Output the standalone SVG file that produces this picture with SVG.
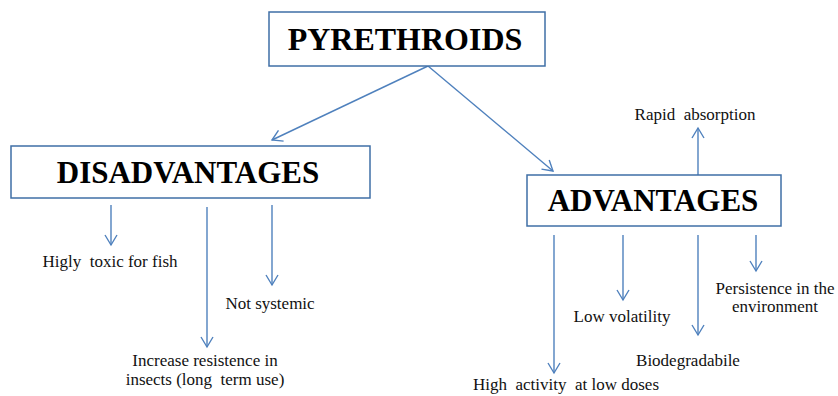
<svg xmlns="http://www.w3.org/2000/svg" width="838" height="396" viewBox="0 0 838 396">
<defs>
<marker id="ah" markerUnits="userSpaceOnUse" markerWidth="14" markerHeight="14" viewBox="-12 -7 14 14" refX="0" refY="0" orient="auto">
<path d="M-10,-6 L0,0 L-10,6" fill="none" stroke="#4F81BD" stroke-width="1.4"/>
</marker>
<style>
.box{fill:#fff;stroke:#3F6FA6;stroke-width:1.5}
.title{font-family:"Liberation Serif","Times New Roman",serif;font-weight:bold;fill:#000;text-anchor:middle}
.lbl{font-family:"Liberation Serif","Times New Roman",serif;font-size:17px;fill:#111;text-anchor:middle;white-space:pre}
.conn line{stroke:#4F81BD;stroke-width:1.4;marker-end:url(#ah)}
</style>
</defs>
<rect width="838" height="396" fill="#fff"/>
<g id="connectors" class="conn">
<line x1="428" y1="66" x2="272" y2="140"/>
<line x1="428" y1="66" x2="553" y2="171"/>
<line x1="111" y1="205" x2="111" y2="245"/>
<line x1="207" y1="207" x2="207" y2="347"/>
<line x1="272" y1="205" x2="272" y2="285"/>
<line x1="698" y1="177" x2="698" y2="128"/>
<line x1="554" y1="235" x2="554" y2="373"/>
<line x1="623" y1="235" x2="623" y2="300"/>
<line x1="698" y1="235" x2="698" y2="335"/>
<line x1="756" y1="235" x2="756" y2="271"/>
</g>
<g id="pyrethroids">
<rect class="box" x="269" y="12" width="276" height="54"/>
<text class="title" x="405" y="50" font-size="32">PYRETHROIDS</text>
</g>
<g id="disadvantages">
<rect class="box" x="11" y="146" width="359" height="52"/>
<text class="title" x="188" y="183" font-size="31">DISADVANTAGES</text>
</g>
<g id="advantages">
<rect class="box" x="527" y="175" width="254" height="51"/>
<text class="title" x="653" y="211" font-size="31">ADVANTAGES</text>
</g>
<g id="rapid"><text class="lbl" x="695" y="120">Rapid  absorption</text></g>
<g id="toxic"><text class="lbl" x="110" y="267">Higly  toxic for fish</text></g>
<g id="notsys"><text class="lbl" x="270" y="309">Not systemic</text></g>
<g id="resist"><text class="lbl" x="205" y="366">Increase resistence in</text><text class="lbl" x="205" y="385">insects (long  term use)</text></g>
<g id="persist"><text class="lbl" x="775" y="294">Persistence in the</text><text class="lbl" x="775" y="312">environment</text></g>
<g id="lowvol"><text class="lbl" x="622" y="322">Low volatility</text></g>
<g id="biodeg"><text class="lbl" x="688" y="366">Biodegradabile</text></g>
<g id="highact"><text class="lbl" x="566" y="390">High  activity  at low doses</text></g>
</svg>
